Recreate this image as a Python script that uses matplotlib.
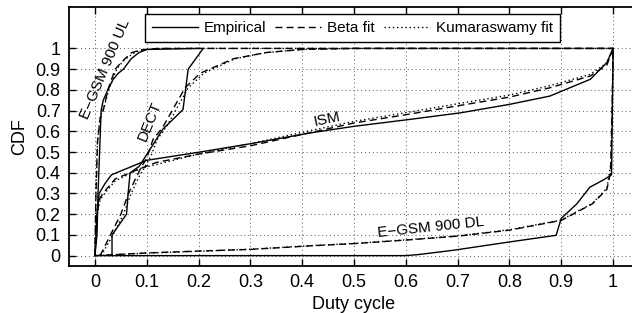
import numpy as np
import matplotlib
matplotlib.use('Agg')
import matplotlib.pyplot as plt

plt.rcParams['font.family'] = ['Liberation Sans', 'DejaVu Sans']

# E-GSM 900 UL
ul_emp_x = [0, 0.004, 0.006, 0.009, 0.012, 0.016, 0.025, 0.035, 0.045, 0.055, 0.07, 0.085, 0.1, 0.2]
ul_emp_y = [0, 0.1, 0.3, 0.5, 0.7, 0.75, 0.8, 0.85, 0.88, 0.9, 0.95, 0.98, 0.995, 1.0]
ul_beta_x = [0, 0.002, 0.005, 0.01, 0.016, 0.025, 0.039, 0.05, 0.058, 0.071, 0.09, 0.12, 1.0]
ul_beta_y = [0, 0.3, 0.55, 0.66, 0.7, 0.8, 0.9, 0.93, 0.95, 0.98, 0.993, 1.0, 1.0]
ul_kum_x = [0, 0.002, 0.005, 0.01, 0.018, 0.028, 0.042, 0.055, 0.065, 0.08, 0.1, 0.13, 1.0]
ul_kum_y = [0, 0.32, 0.56, 0.67, 0.72, 0.81, 0.9, 0.94, 0.96, 0.985, 0.995, 1.0, 1.0]

# DECT
dect_emp_x = [0.033, 0.033, 0.061, 0.064, 0.068, 0.085, 0.093, 0.103, 0.131, 0.17, 0.18, 0.209]
dect_emp_y = [0, 0.1, 0.2, 0.3, 0.4, 0.43, 0.46, 0.5, 0.61, 0.705, 0.9, 1.0]
dect_beta_x = [0.01, 0.03, 0.05, 0.065, 0.08, 0.09, 0.1, 0.112, 0.131, 0.174, 0.203, 0.267, 0.33, 0.4, 0.5, 1.0]
dect_beta_y = [0, 0.1, 0.2, 0.3, 0.38, 0.43, 0.47, 0.56, 0.62, 0.81, 0.88, 0.95, 0.98, 0.995, 1.0, 1.0]
dect_kum_x = [0.012, 0.035, 0.055, 0.07, 0.085, 0.097, 0.108, 0.12, 0.14, 0.18, 0.21, 0.27, 0.33, 0.4, 0.5, 1.0]
dect_kum_y = [0, 0.1, 0.2, 0.3, 0.38, 0.43, 0.48, 0.56, 0.63, 0.81, 0.88, 0.95, 0.98, 0.995, 1.0, 1.0]

# ISM
ism_emp_x = [0, 0.004, 0.008, 0.02, 0.032, 0.1, 0.203, 0.3, 0.415, 0.5, 0.6, 0.705, 0.8, 0.878, 0.956, 0.988, 1.0]
ism_emp_y = [0, 0.2, 0.3, 0.35, 0.39, 0.46, 0.5, 0.54, 0.592, 0.624, 0.655, 0.689, 0.73, 0.77, 0.851, 0.932, 1.0]
ism_beta_x = [0, 0.003, 0.01, 0.022, 0.039, 0.087, 0.119, 0.2, 0.3, 0.4, 0.5, 0.6, 0.705, 0.8, 0.878, 0.956, 0.988, 1.0]
ism_beta_y = [0, 0.2, 0.28, 0.32, 0.37, 0.42, 0.45, 0.49, 0.53, 0.585, 0.64, 0.68, 0.725, 0.765, 0.81, 0.867, 0.92, 1.0]
ism_kum_x = [0, 0.003, 0.01, 0.022, 0.039, 0.087, 0.119, 0.2, 0.3, 0.4, 0.5, 0.6, 0.705, 0.8, 0.878, 0.956, 0.988, 1.0]
ism_kum_y = [0, 0.18, 0.27, 0.31, 0.36, 0.42, 0.44, 0.49, 0.54, 0.595, 0.648, 0.69, 0.735, 0.775, 0.82, 0.875, 0.93, 1.0]

# E-GSM 900 DL
dl_emp_x = [0, 0.6, 0.624, 0.692, 0.8, 0.89, 0.9, 0.93, 0.955, 0.981, 0.997, 1.0]
dl_emp_y = [0, 0, 0.005, 0.026, 0.066, 0.098, 0.18, 0.25, 0.33, 0.365, 0.39, 1.0]
dl_beta_x = [0, 0.1, 0.2, 0.3, 0.415, 0.5, 0.6, 0.7, 0.8, 0.9, 0.96, 0.988, 0.995, 0.998, 1.0]
dl_beta_y = [0, 0.013, 0.022, 0.03, 0.047, 0.058, 0.075, 0.094, 0.123, 0.17, 0.25, 0.32, 0.4, 0.7, 1.0]
dl_kum_x = [0, 0.1, 0.2, 0.3, 0.415, 0.5, 0.6, 0.7, 0.8, 0.9, 0.96, 0.988, 0.996, 0.999, 1.0]
dl_kum_y = [0, 0.012, 0.021, 0.031, 0.048, 0.059, 0.076, 0.095, 0.125, 0.172, 0.252, 0.325, 0.45, 0.8, 1.0]

fig = plt.figure(figsize=(6.32, 3.13), dpi=100)
ax = fig.add_axes([0.1092, 0.1502, 0.9019, 0.8275])

lw = 1.0
for ex, ey, bx, by, kx, ky in [
        (ul_emp_x, ul_emp_y, ul_beta_x, ul_beta_y, ul_kum_x, ul_kum_y),
        (dect_emp_x, dect_emp_y, dect_beta_x, dect_beta_y, dect_kum_x, dect_kum_y),
        (ism_emp_x, ism_emp_y, ism_beta_x, ism_beta_y, ism_kum_x, ism_kum_y),
        (dl_emp_x, dl_emp_y, dl_beta_x, dl_beta_y, dl_kum_x, dl_kum_y)]:
    ax.plot(ex, ey, color='black', lw=lw, ls='-')
    ax.plot(bx, by, color='black', lw=lw, ls=(0, (5, 3)))
    ax.plot(kx, ky, color='black', lw=lw, ls=(0, (1, 2)))

# legend handles
l1, = ax.plot([], [], color='black', lw=lw, ls='-', label='Empirical')
l2, = ax.plot([], [], color='black', lw=lw, ls=(0, (5, 3)), label='Beta fit')
l3, = ax.plot([], [], color='black', lw=lw, ls=(0, (1, 2)), label='Kumaraswamy fit')
leg = ax.legend(handles=[l1, l2, l3], ncol=3, loc='upper left',
                bbox_to_anchor=(0.133, 0.973), fontsize=11, frameon=True,
                fancybox=False, framealpha=1, edgecolor='black',
                handlelength=3.0, handletextpad=0.4, columnspacing=0.6,
                borderpad=0.45, borderaxespad=0)
leg.get_frame().set_linewidth(1.0)

ax.text(0.019, 0.9, 'E−GSM 900 UL', rotation=67, fontsize=11, ha='center', va='center')
ax.text(0.106, 0.65, 'DECT', rotation=68, fontsize=11, ha='center', va='center')
ax.text(0.448, 0.657, 'ISM', rotation=12, fontsize=11, ha='center', va='center')
ax.text(0.649, 0.137, 'E−GSM 900 DL', rotation=6, fontsize=11, ha='center', va='center')

ax.set_xlim(-0.05, 1.05)
ax.set_ylim(-0.05, 1.2)
ax.set_xticks(np.arange(0, 1.01, 0.1))
ax.set_xticklabels(['0', '0.1', '0.2', '0.3', '0.4', '0.5', '0.6', '0.7', '0.8', '0.9', '1'])
ax.set_yticks(np.arange(0, 1.01, 0.1))
ax.set_yticklabels(['0', '0.1', '0.2', '0.3', '0.4', '0.5', '0.6', '0.7', '0.8', '0.9', '1'])
ax.tick_params(direction='in', top=True, right=False, labelsize=13, length=5, width=1, pad=6)
ax.grid(True, color='0.35', ls=(0, (1, 3)), lw=0.7)
for s in ax.spines.values():
    s.set_linewidth(1.3)

ax.set_xlabel('Duty cycle', fontsize=13)
ax.set_ylabel('CDF', fontsize=13)
ax.xaxis.set_label_coords(0.5, -0.115)
ax.yaxis.set_label_coords(-0.072, 0.5)

plt.savefig('out.png', dpi=100)
